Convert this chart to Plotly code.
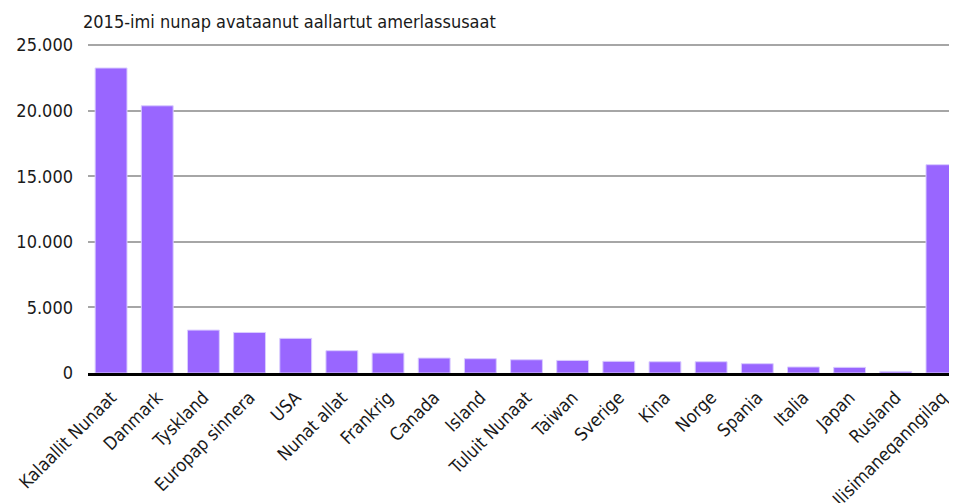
import plotly.graph_objects as go

# Countries of departure (2015) and number of travellers
countries = [
    "Kalaallit Nunaat", "Danmark", "Tyskland", "Europap sinnera", "USA",
    "Nunat allat", "Frankrig", "Canada", "Island", "Tuluit Nunaat",
    "Taiwan", "Sverige", "Kina", "Norge", "Spania", "Italia", "Japan",
    "Rusland", "Ilisimaneqanngilaq",
]
counts = [
    23250, 20370, 3270, 3090, 2640,
    1700, 1520, 1140, 1090, 1010,
    960, 890, 860, 860, 710, 460, 430,
    120, 15880,
]
y_ticks = [0, 5000, 10000, 15000, 20000, 25000]

FONT = "DejaVu Sans Condensed, sans-serif"

fig = go.Figure(
    go.Bar(
        x=countries,
        y=counts,
        marker=dict(color="#9966FF", line=dict(color="#D9CCFF", width=1)),
        hoverinfo="x+y",
    )
)

# page body adds an 8px offset, margins compensate for it
fig.update_layout(
    width=957,
    height=503,
    paper_bgcolor="white",
    plot_bgcolor="white",
    separators=",.",
    bargap=0.31,
    showlegend=False,
    font=dict(family=FONT, size=18, color="#1a1a1a"),
    margin=dict(l=80, r=0, t=36, b=138),
    title=dict(
        text="2015-imi nunap avataanut aallartut amerlassusaat",
        font=dict(family=FONT, size=18, color="#1a1a1a"),
        xref="container", x=75 / 957, xanchor="left",
        yref="container", y=1 - 14 / 503, yanchor="middle",
    ),
    xaxis=dict(
        range=[-0.5, 18.5],
        automargin=False,
        tickangle=-45,
        showgrid=False,
        showline=True,
        linecolor="black",
        linewidth=3,
        layer="above traces",
        ticks="",
        ticklabelstandoff=4,
        tickfont=dict(family=FONT, size=18, color="#1a1a1a"),
    ),
    yaxis=dict(
        range=[0, 25080],
        automargin=False,
        tickvals=y_ticks,
        tickformat=",d",
        showgrid=True,
        gridcolor="#A6A6A6",
        gridwidth=2,
        zeroline=False,
        ticks="",
        ticklabelstandoff=14,
        tickfont=dict(family=FONT, size=18, color="#1a1a1a"),
    ),
)

fig.write_html("out.html")
